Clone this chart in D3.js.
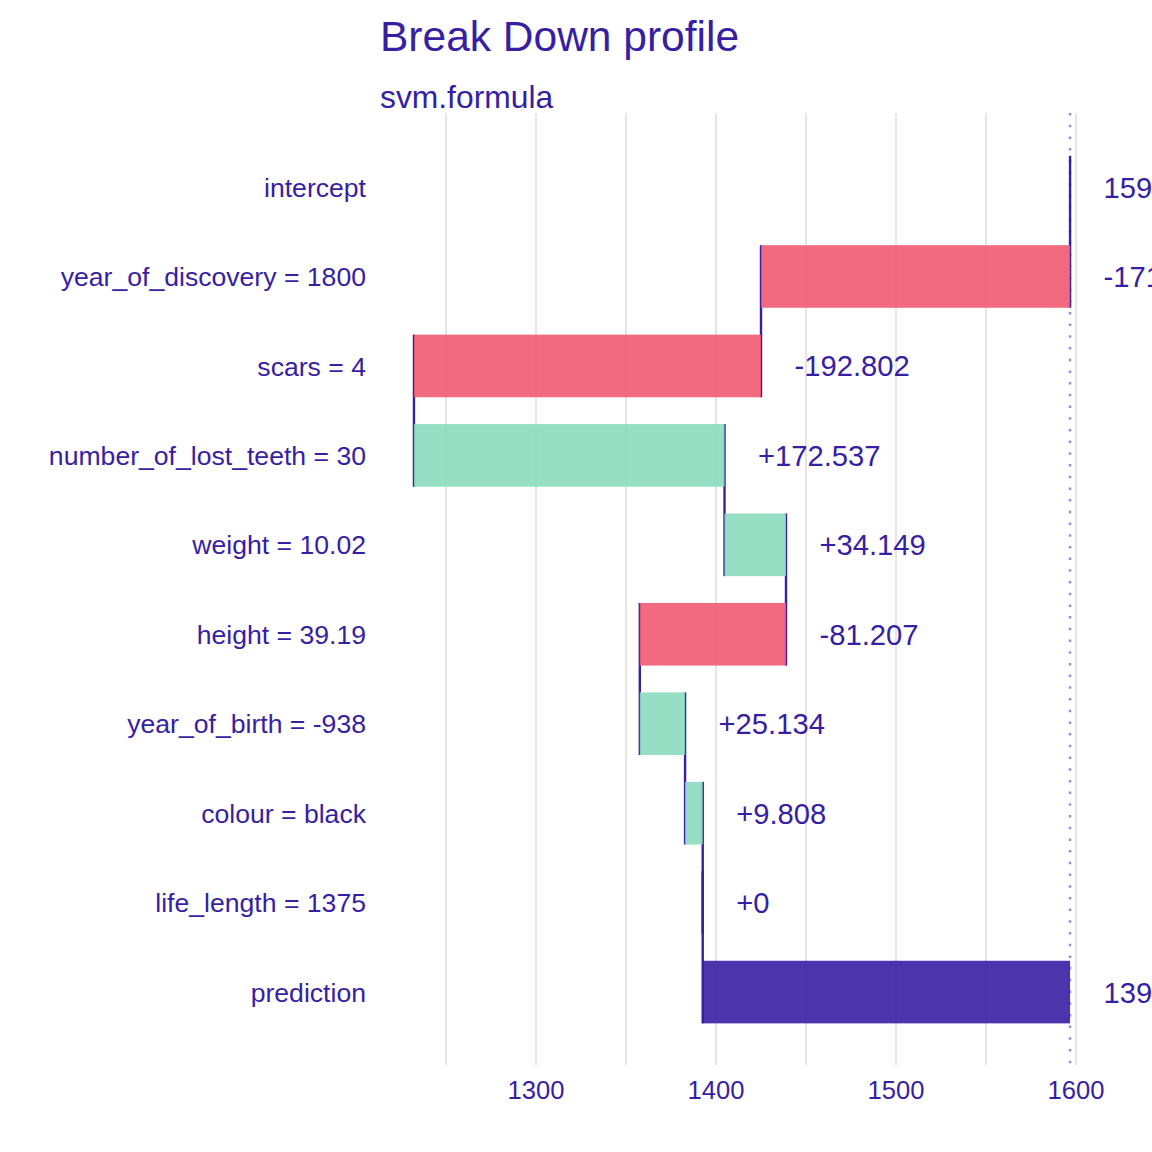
<!DOCTYPE html>
<html>
<head>
<meta charset="utf-8">
<script src="https://d3js.org/d3.v7.min.js"></script>
<style>
  body { margin: 0; background: #ffffff; }
  text { font-family: "Liberation Sans", Arial, sans-serif; fill: #371ea3; }
</style>
</head>
<body>
<div id="vis1"></div>
<script>
const FRAME_HEIGHT = 1152;
const FRAME_WIDTH = 1152;

// data
const categories = ["intercept", "year_of_discovery = 1800", "scars = 4",
    "number_of_lost_teeth = 30", "weight = 10.02", "height = 39.19",
    "year_of_birth = -938", "colour = black", "life_length = 1375", "prediction"];
const contributions = [1596.7, -171.7, -192.802, 172.537, 34.149, -81.207,
    25.134, 9.808, 0, 1392.6];
const xTicks = [1300, 1400, 1500, 1600];
const gridTicks = [1250, 1300, 1350, 1400, 1450, 1500, 1550, 1600];

const COL_POS = "#8bdcbe";
const COL_NEG = "#f05a71";
const COL_DARK = "#371ea3";

const PANEL = {left: 380, right: 1152, top: 113, bottom: 1065};

const FRAME1 = d3.select("#vis1")
    .append("svg")
    .attr("height", FRAME_HEIGHT)
    .attr("width", FRAME_WIDTH);

// build the waterfall rows
let rows = [];
let cum = contributions[0];
categories.forEach((c, i) => {
    let v = contributions[i];
    let prev, cur, sign, label;
    if (i == 0) {
        prev = v; cur = v; sign = "X";
        label = String(v);
    } else if (i == categories.length - 1) {
        prev = contributions[0]; cur = v; sign = "X";
        label = String(v);
    } else {
        prev = cum; cum = cum + v; cur = cum;
        sign = v >= 0 ? "+" : "-";
        label = (v >= 0 ? "+" : "") + String(+v.toFixed(3));
    }
    rows.push({cat: c, prev: prev, cum: cur, sign: sign, label: label});
});

const X_SCALE = d3.scaleLinear()
    .domain([1300, 1600])
    .range([536, 1076]);

const Y_SCALE = d3.scaleBand()
    .domain(categories)
    .range([142.3, 1036.8])
    .paddingInner(0.3)
    .paddingOuter(0.15);

// grid
FRAME1.append("g")
    .selectAll("line")
    .data(gridTicks)
    .enter()
    .append("line")
    .attr("x1", (d) => X_SCALE(d))
    .attr("x2", (d) => X_SCALE(d))
    .attr("y1", PANEL.top)
    .attr("y2", PANEL.bottom)
    .attr("stroke", "#e6e6e6")
    .attr("stroke-width", 2.2);

// intercept reference line
FRAME1.append("line")
    .attr("x1", X_SCALE(contributions[0]))
    .attr("x2", X_SCALE(contributions[0]))
    .attr("y1", PANEL.top)
    .attr("y2", PANEL.bottom)
    .attr("stroke", COL_DARK)
    .attr("stroke-opacity", 0.5)
    .attr("stroke-width", 2.5)
    .attr("stroke-dasharray", "2.5,9.2");

// connectors between bars
FRAME1.append("g")
    .selectAll("line")
    .data(rows.slice(0, rows.length - 1))
    .enter()
    .append("line")
    .attr("x1", (d) => X_SCALE(d.cum))
    .attr("x2", (d) => X_SCALE(d.cum))
    .attr("y1", (d) => Y_SCALE(d.cat))
    .attr("y2", (d, i) => Y_SCALE(categories[i + 1]) + Y_SCALE.bandwidth())
    .attr("stroke", COL_DARK)
    .attr("stroke-width", 2.4);

// bars
FRAME1.append("g")
    .selectAll("rect")
    .data(rows)
    .enter()
    .append("rect")
    .attr("x", (d) => X_SCALE(Math.min(d.prev, d.cum)))
    .attr("y", (d) => Y_SCALE(d.cat))
    .attr("width", (d) => Math.abs(X_SCALE(d.cum) - X_SCALE(d.prev)))
    .attr("height", Y_SCALE.bandwidth())
    .attr("fill", (d) => d.sign == "+" ? COL_POS : (d.sign == "-" ? COL_NEG : COL_DARK))
    .attr("fill-opacity", 0.9);

// value labels
FRAME1.append("g")
    .selectAll("text")
    .data(rows)
    .enter()
    .append("text")
    .attr("x", (d) => X_SCALE(Math.max(d.prev, d.cum)) + 33.5)
    .attr("y", (d) => Y_SCALE(d.cat) + Y_SCALE.bandwidth() / 2)
    .attr("dy", "0.36em")
    .style("font-size", "29.2px")
    .text((d) => d.label);

// category labels
FRAME1.append("g")
    .selectAll("text")
    .data(categories)
    .enter()
    .append("text")
    .attr("x", 366)
    .attr("y", (d) => Y_SCALE(d) + Y_SCALE.bandwidth() / 2)
    .attr("dy", "0.36em")
    .attr("text-anchor", "end")
    .style("font-size", "26.6px")
    .text((d) => d);

// x tick labels
FRAME1.append("g")
    .selectAll("text")
    .data(xTicks)
    .enter()
    .append("text")
    .attr("x", (d) => X_SCALE(d))
    .attr("y", 1099)
    .attr("text-anchor", "middle")
    .style("font-size", "25.6px")
    .text((d) => d);

// titles
FRAME1.append("text")
    .attr("x", 380)
    .attr("y", 51)
    .style("font-size", "42.5px")
    .text("Break Down profile");

FRAME1.append("text")
    .attr("x", 380)
    .attr("y", 108)
    .style("font-size", "31.8px")
    .text("svm.formula");
</script>
</body>
</html>
